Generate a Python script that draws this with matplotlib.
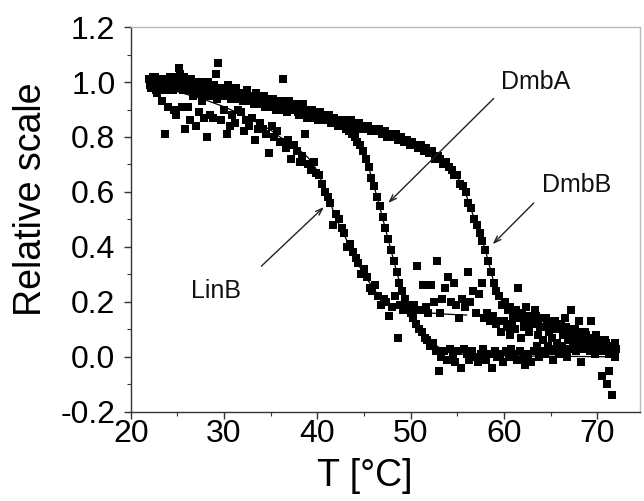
import matplotlib
matplotlib.use("Agg")
import matplotlib.pyplot as plt
from matplotlib.ticker import MultipleLocator

plt.rcParams["font.family"] = ["Liberation Sans", "DejaVu Sans"]

dmbb_t = [
    22.0, 22.3, 22.6, 22.9, 23.2, 23.5, 23.8, 24.1, 24.4, 24.7,
    25.0, 25.3, 25.6, 25.9, 26.2, 26.5, 26.8, 27.1, 27.4, 27.7,
    28.0, 28.3, 28.6, 28.9, 29.2, 29.5, 29.8, 30.1, 30.4, 30.7,
    31.0, 31.3, 31.6, 31.9, 32.2, 32.5, 32.8, 33.1, 33.4, 33.7,
    34.0, 34.3, 34.6, 34.9, 35.2, 35.5, 35.8, 36.1, 36.4, 36.7,
    37.0, 37.3, 37.6, 37.9, 38.2, 38.5, 38.8, 39.1, 39.4, 39.7,
    40.0, 40.3, 40.6, 40.9, 41.2, 41.5, 41.8, 42.1, 42.4, 42.7,
    43.0, 43.3, 43.6, 43.9, 44.2, 44.5, 44.8, 45.1, 45.4, 45.7,
    46.0, 46.3, 46.6, 46.9, 47.2, 47.5, 47.8, 48.1, 48.4, 48.7,
    49.0, 49.3, 49.6, 49.9, 50.2, 50.5, 50.8, 51.1, 51.4, 51.7,
    52.0, 52.3, 52.6, 52.9, 53.2, 53.5, 53.8, 54.1, 54.4, 54.7,
    55.0, 55.3, 55.6, 55.9, 56.2, 56.5, 56.8, 57.1, 57.4, 57.7,
    58.0, 58.3, 58.6, 58.9, 59.2, 59.5, 59.8, 60.1, 60.4, 60.7,
    61.0, 61.3, 61.6, 61.9, 62.2, 62.5, 62.8, 63.1, 63.4, 63.7,
    64.0, 64.3, 64.6, 64.9, 65.2, 65.5, 65.8, 66.1, 66.4, 66.7,
    67.0, 67.3, 67.6, 67.9, 68.2, 68.5, 68.8, 69.1, 69.4, 69.7,
    70.0, 70.3, 70.6, 70.9, 71.2, 71.5, 71.8, 72.0,
]
dmbb_y = [
    1.01, 0.98, 1.02, 0.99, 1.00, 0.97, 1.01, 0.99, 1.02, 0.98,
    1.00, 1.03, 0.97, 1.00, 0.99, 1.01, 0.96, 0.99, 1.00, 0.97,
    0.98, 1.00, 0.95, 0.99, 0.97, 0.98, 0.95, 0.97, 0.99, 0.95,
    0.96, 0.98, 0.94, 0.96, 0.95, 0.97, 0.93, 0.95, 0.96, 0.92,
    0.94, 0.95, 0.93, 0.91, 0.94, 0.92, 0.93, 0.90, 0.92, 0.91,
    0.93, 0.90, 0.91, 0.89, 0.90, 0.92, 0.88, 0.89, 0.90, 0.87,
    0.88, 0.89, 0.86, 0.87, 0.88, 0.85, 0.87, 0.86, 0.85, 0.86,
    0.84, 0.85, 0.86, 0.84, 0.83, 0.85, 0.84, 0.83, 0.84, 0.82,
    0.83, 0.82, 0.83, 0.81, 0.82, 0.80, 0.81, 0.80, 0.81, 0.79,
    0.80, 0.78, 0.79, 0.77, 0.78, 0.77, 0.76, 0.77, 0.75, 0.76,
    0.74, 0.75, 0.72, 0.73, 0.72, 0.70, 0.71, 0.69, 0.68, 0.66,
    0.66, 0.63, 0.62, 0.60, 0.56, 0.54, 0.50, 0.48, 0.45, 0.42,
    0.39, 0.35, 0.31, 0.27, 0.24, 0.22, 0.19, 0.20, 0.17, 0.18,
    0.15, 0.17, 0.14, 0.16, 0.13, 0.15, 0.14, 0.12, 0.15, 0.13,
    0.14, 0.11, 0.13, 0.12, 0.10, 0.13, 0.11, 0.12, 0.09, 0.11,
    0.10, 0.08, 0.10, 0.07, 0.09, 0.06, 0.08, 0.07, 0.05, 0.07,
    0.04, 0.06, 0.03, 0.05, 0.02, 0.04, 0.01, 0.03,
]

dmba_t = [
    22.1, 22.4, 22.7, 23.0, 23.3, 23.6, 23.9, 24.2, 24.5, 24.8,
    25.1, 25.4, 25.7, 26.0, 26.3, 26.6, 26.9, 27.2, 27.5, 27.8,
    28.1, 28.4, 28.7, 29.0, 29.3, 29.6, 29.9, 30.2, 30.5, 30.8,
    31.1, 31.4, 31.7, 32.0, 32.3, 32.6, 32.9, 33.2, 33.5, 33.8,
    34.1, 34.4, 34.7, 35.0, 35.3, 35.6, 35.9, 36.2, 36.5, 36.8,
    37.1, 37.4, 37.7, 38.0, 38.3, 38.6, 38.9, 39.2, 39.5, 39.8,
    40.1, 40.4, 40.7, 41.0, 41.3, 41.6, 41.9, 42.2, 42.5, 42.8,
    43.1, 43.4, 43.7, 44.0, 44.3, 44.6, 44.9, 45.2, 45.5, 45.8,
    46.1, 46.4, 46.7, 47.0, 47.3, 47.6, 47.9, 48.2, 48.5, 48.8,
    49.1, 49.4, 49.7, 50.0, 50.3, 50.6, 50.9, 51.2, 51.5, 51.8,
    52.1, 52.4, 52.7, 53.0, 53.3, 53.6, 53.9, 54.2, 54.5, 54.8,
    55.1, 55.4, 55.7, 56.0, 56.3, 56.6, 56.9, 57.2, 57.5, 57.8,
    58.1, 58.4, 58.7, 59.0, 59.3, 59.6, 59.9, 60.2, 60.5, 60.8,
    61.1, 61.4, 61.7, 62.0, 62.3, 62.6, 62.9, 63.2, 63.5, 63.8,
    64.1, 64.4, 64.7, 65.0, 65.3, 65.6, 65.9, 66.2, 66.5, 66.8,
    67.1, 67.4, 67.7, 68.0, 68.3, 68.6, 68.9, 69.2, 69.5, 69.8,
    70.1, 70.4, 70.7, 71.0, 71.3, 71.6, 71.9,
]
dmba_y = [
    0.99, 1.02, 0.97, 1.00, 1.01, 0.98, 0.99, 1.02, 0.97, 1.01,
    0.98, 0.99, 1.02, 0.97, 0.98, 1.00, 0.97, 0.96, 0.99, 0.98,
    0.95, 0.97, 0.99, 0.96, 0.94, 0.97, 0.98, 0.95, 0.96, 0.94,
    0.97, 0.95, 0.96, 0.93, 0.96, 0.94, 0.95, 0.92, 0.94, 0.95,
    0.93, 0.91, 0.94, 0.92, 0.93, 0.90, 0.92, 0.91, 0.93, 0.89,
    0.91, 0.90, 0.92, 0.88, 0.90, 0.89, 0.87, 0.90, 0.88, 0.89,
    0.86, 0.88, 0.87, 0.86, 0.87, 0.85, 0.86, 0.84, 0.85, 0.84,
    0.83, 0.82, 0.81, 0.80, 0.78, 0.77, 0.75, 0.72, 0.69, 0.65,
    0.62, 0.58, 0.55, 0.51, 0.47, 0.43, 0.39, 0.35, 0.31, 0.27,
    0.24, 0.21, 0.18, 0.16, 0.14, 0.12, 0.10, 0.09, 0.07, 0.06,
    0.04, 0.05, 0.02, -0.05, 0.00, 0.02, -0.01, 0.03, 0.01, -0.02,
    0.02, -0.04, 0.03, 0.01, -0.01, 0.02, 0.00, -0.02, 0.01, 0.03,
    -0.01, 0.01, -0.04, 0.02, 0.00, 0.01, -0.02, 0.02, 0.00, 0.03,
    0.01, -0.01, 0.02, 0.00, -0.03, 0.01, -0.02, 0.02, 0.04, 0.00,
    0.02, 0.01, 0.04, 0.02, -0.01, 0.03, 0.01, 0.04, 0.02, 0.00,
    0.03, 0.05, 0.02, 0.04, -0.02, 0.03, 0.05, 0.02, 0.04, 0.01,
    0.03, 0.05, 0.02, 0.04, 0.01, 0.03, 0.00,
]

linb_t = [
    22.2, 22.5, 22.8, 23.1, 23.4, 23.7, 24.0, 24.3, 24.6, 24.9,
    25.2, 25.5, 25.8, 26.1, 26.4, 26.7, 27.0, 27.3, 27.6, 27.9,
    28.2, 28.5, 28.8, 29.1, 29.4, 29.7, 30.0, 30.3, 30.6, 30.9,
    31.2, 31.5, 31.8, 32.1, 32.4, 32.7, 33.0, 33.3, 33.6, 33.9,
    34.2, 34.5, 34.8, 35.1, 35.4, 35.7, 36.0, 36.3, 36.6, 36.9,
    37.2, 37.5, 37.8, 38.1, 38.4, 38.7, 39.0, 39.3, 39.6, 39.9,
    40.2, 40.5, 40.8, 41.1, 41.4, 41.7, 42.0, 42.3, 42.6, 42.9,
    43.2, 43.5, 43.8, 44.1, 44.4, 44.7, 45.0, 45.3, 45.6, 45.9,
    46.2, 46.5, 46.8, 47.1, 47.4, 47.7, 48.0, 48.3, 48.6, 48.9,
    49.2, 49.5, 49.8, 50.1, 50.4, 50.7, 51.0, 51.3, 51.6, 51.9,
    52.2, 52.5, 52.8, 53.1, 53.4, 53.7, 54.0, 54.3, 54.6, 54.9,
    55.2, 55.5, 55.8, 56.1, 56.4, 56.7, 57.0, 57.3, 57.6, 57.9,
    58.2, 58.5, 58.8, 59.1, 59.4, 59.7, 60.0, 60.3, 60.6, 60.9,
    61.2, 61.5, 61.8, 62.1, 62.4, 62.7, 63.0, 63.3, 63.6, 63.9,
    64.2, 64.5, 64.8, 65.1, 65.4, 65.7, 66.0, 66.3, 66.6, 66.9,
    67.2, 67.5, 67.8, 68.1, 68.4, 68.7, 69.0, 69.3, 69.6, 69.9,
    70.2, 70.5, 70.8, 71.1, 71.3, 71.6, 71.9,
]
linb_y = [
    0.98, 1.01, 0.96, 0.99, 0.93, 0.81, 0.91, 0.97, 0.90, 0.88,
    1.05, 0.91, 0.83, 0.91, 0.86, 0.95, 0.84, 0.89, 0.93, 0.87,
    0.80, 0.88, 0.87, 1.03, 1.07, 0.86, 0.90, 0.81, 0.84, 0.88,
    0.85, 0.90, 0.89, 0.82, 0.86, 0.84, 0.87, 0.79, 0.83, 0.85,
    0.83, 0.81, 0.74, 0.84, 0.80, 0.82, 0.78, 1.01, 0.76, 0.79,
    0.72, 0.77, 0.75, 0.71, 0.73, 0.81, 0.70, 0.68, 0.71, 0.67,
    0.66, 0.63, 0.60, 0.58, 0.56, 0.48, 0.52, 0.50, 0.47, 0.45,
    0.40, 0.41, 0.38, 0.36, 0.34, 0.30, 0.32, 0.29, 0.25, 0.24,
    0.26, 0.22, 0.19, 0.21, 0.20, 0.15, 0.18, 0.22, 0.07, 0.19,
    0.17, 0.19, 0.18, 0.16, 0.19, 0.33, 0.17, 0.26, 0.18, 0.16,
    0.26, 0.20, 0.35, 0.16, 0.21, 0.25, 0.29, 0.20, 0.27, 0.19,
    0.14, 0.21, 0.18, 0.31, 0.20, 0.24, 0.16, 0.23, 0.27, 0.14,
    0.16, 0.13, 0.15, 0.12, 0.13, 0.09, 0.13, 0.11, 0.08, 0.12,
    0.10, 0.25, 0.07, 0.11, 0.18, 0.09, 0.12, 0.17, 0.08, 0.11,
    0.06, 0.14, 0.09, 0.07, 0.12, 0.05, 0.10, 0.08, 0.14, 0.06,
    0.17, 0.07, 0.04, 0.13, 0.06, 0.09, 0.03, 0.13, 0.06, 0.08,
    0.02, -0.07, 0.06, -0.10, -0.05, -0.14, 0.05,
]

# --- fitted curves ---
linb_fit_t = [22, 24, 26, 28, 30, 32, 34, 35, 36, 37, 38, 39, 39.5, 40, 40.5,
              41, 41.5, 42, 42.5, 43, 43.5, 44, 44.5, 45, 45.5, 46, 46.5, 47,
              47.5, 48, 49, 50, 51, 52, 54, 56]
linb_fit_y = [0.99, 0.975, 0.955, 0.935, 0.91, 0.88, 0.845, 0.825, 0.80, 0.78,
              0.755, 0.725, 0.705, 0.675, 0.635, 0.595, 0.55, 0.505, 0.47, 0.435,
              0.40, 0.365, 0.33, 0.30, 0.275, 0.25, 0.225, 0.21, 0.198, 0.19,
              0.18, 0.172, 0.165, 0.16, 0.155, 0.152]

dmba_fit_t = [22, 26, 30, 34, 38, 40, 42, 43, 43.5, 44, 44.5, 45, 45.5, 46,
              46.5, 47, 47.5, 48, 48.5, 49, 49.5, 50, 50.5, 51, 51.5, 52, 53,
              54, 55, 56, 58, 62, 66, 72]
dmba_fit_y = [1.0, 0.985, 0.965, 0.94, 0.905, 0.885, 0.86, 0.84, 0.825, 0.80,
              0.77, 0.735, 0.69, 0.63, 0.57, 0.505, 0.44, 0.375, 0.31, 0.25,
              0.20, 0.16, 0.125, 0.10, 0.08, 0.06, 0.035, 0.02, 0.012, 0.008,
              0.005, 0.003, 0.002, 0.0]

dmbb_fit_t = [22, 26, 30, 34, 38, 42, 44, 46, 48, 50, 51, 52, 53, 54, 55,
              55.5, 56, 56.5, 57, 57.5, 58, 58.5, 59, 59.5, 60, 60.5, 61, 62,
              63, 64, 65, 66, 67, 68, 69, 70, 71, 72]
dmbb_fit_y = [1.0, 0.985, 0.965, 0.94, 0.905, 0.87, 0.85, 0.83, 0.805, 0.78,
              0.765, 0.745, 0.725, 0.695, 0.655, 0.625, 0.585, 0.535, 0.485,
              0.44, 0.39, 0.325, 0.26, 0.22, 0.19, 0.175, 0.165, 0.15, 0.14,
              0.13, 0.12, 0.11, 0.095, 0.08, 0.065, 0.05, 0.035, 0.02]

labels = ["DmbA", "DmbB", "LinB"]
label_xy = [(63.4, 1.0), (67.8, 0.625), (29.1, 0.24)]
arrow_from = [(58.9, 0.94), (63.2, 0.56), (34.0, 0.33)]
arrow_to = [(47.6, 0.56), (58.8, 0.41), (40.7, 0.545)]

fig = plt.figure(figsize=(6.44, 5.01), dpi=100)
ax = fig.add_axes([0.203, 0.178, 0.791, 0.768])

for fx, fy in [(linb_fit_t, linb_fit_y), (dmba_fit_t, dmba_fit_y), (dmbb_fit_t, dmbb_fit_y)]:
    ax.plot(fx, fy, "-", color="black", lw=0.9, zorder=2)

for xs, ys in [(linb_t, linb_y), (dmba_t, dmba_y), (dmbb_t, dmbb_y)]:
    ax.plot(xs, ys, "s", color="black", ms=5.2, mew=0, zorder=3)

for name, txy, a0, a1 in zip(labels, label_xy, arrow_from, arrow_to):
    ax.text(txy[0], txy[1], name, fontsize=18, ha="center", va="center", color="#111111")
    ax.annotate("", xy=a1, xytext=a0,
                arrowprops=dict(arrowstyle="->,head_length=0.5,head_width=0.18",
                                color="#222222", lw=1.0, shrinkA=0, shrinkB=0))

ax.set_xlim(20, 74.6)
ax.set_ylim(-0.2, 1.2)
ax.xaxis.set_minor_locator(MultipleLocator(5))
ax.yaxis.set_minor_locator(MultipleLocator(0.1))
ax.set_xticks([20, 30, 40, 50, 60, 70])
ax.set_yticks([-0.2, 0.0, 0.2, 0.4, 0.6, 0.8, 1.0, 1.2])
ax.set_yticklabels(["-0.2", "0.0", "0.2", "0.4", "0.6", "0.8", "1.0", "1.2"])

ax.tick_params(which="major", direction="out", length=5, width=1.0,
               labelsize=23, color="#333333")
ax.tick_params(axis="y", which="major", pad=6)
ax.tick_params(axis="x", which="major", pad=0.5)
ax.tick_params(which="minor", direction="out", length=3, width=0.8, color="#333333")
ax.tick_params(top=False, right=False, which="both")

for side in ["left", "bottom"]:
    ax.spines[side].set_color("#333333")
    ax.spines[side].set_linewidth(1.0)
for side in ["top", "right"]:
    ax.spines[side].set_color("#bbbbbb")
    ax.spines[side].set_linewidth(1.0)

ax.set_xlabel("T [°C]", fontsize=27)
ax.set_ylabel("Relative scale", fontsize=27)
ax.xaxis.set_label_coords(0.46, -0.12)
ax.yaxis.set_label_coords(-0.16, 0.553)

fig.savefig("out.png", dpi=100)
